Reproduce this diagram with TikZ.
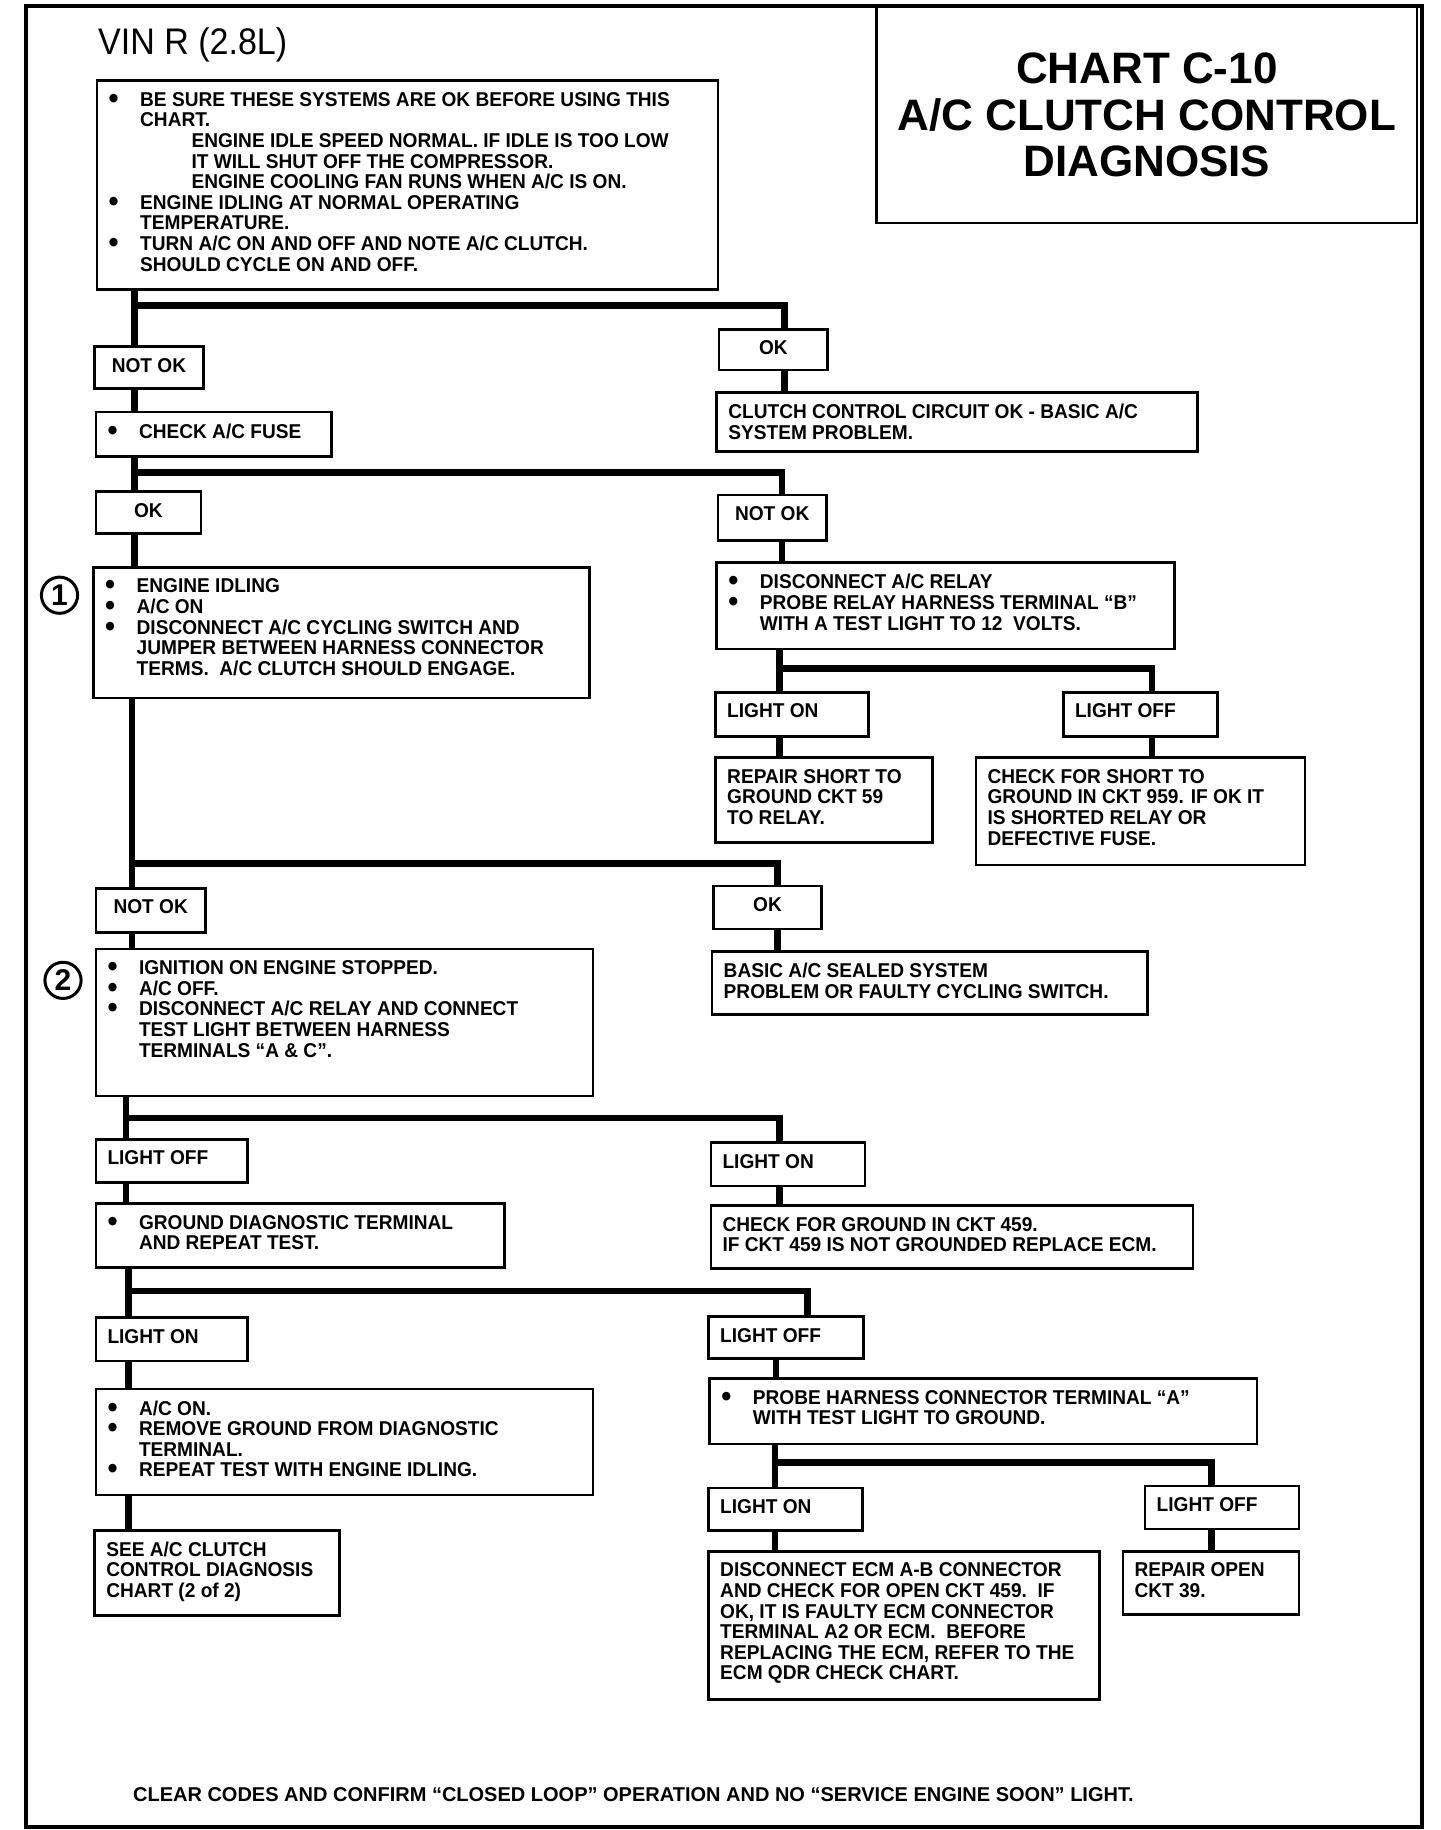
\documentclass[tikz,border=0pt]{standalone}
\usepackage{fontspec}
\setmainfont{Liberation Sans}[FakeStretch=0.955]
\newfontfamily\headfont{Liberation Sans}
\newfontfamily\vinfont{Liberation Sans}[FakeStretch=0.92]
\newlength\px
\setlength\px{0.5835pt}

% bullet and bullet item
\newcommand\bdot{\raisebox{-0.1em}{\scalebox{1.5}{\textbullet}}}
\newcommand\bitem{\par\hangindent=27\px\hangafter=1\noindent\makebox[27\px][l]{\smash{\bdot}}}

\tikzset{
  cbox/.style={draw, line width=1.3pt, anchor=north west, inner xsep=10\px, inner ysep=10\px,
    font=\fontsize{10}{10.3}\selectfont\bfseries},
  conn/.style={line width=3.3pt},
  numcirc/.style={circle, draw, line width=1.5pt, minimum size=31\px, inner sep=0pt,
    font=\headfont\fontsize{15}{15}\selectfont\bfseries},
}

% name, x, y, width, height, text
\newcommand\chartbox[6]{%
  \node[cbox] (#1) at (#2,#3)
    {\parbox[t][\dimexpr#5\px-20\px\relax][t]{\dimexpr#4\px-20\px\relax}{#6}};}

\begin{document}
\begin{tikzpicture}[x=\px, y=-\px]
\useasboundingbox (0,0) rectangle (1234,1568);
\draw[line width=2pt] (22,5) rectangle (1218,1565);

\node[anchor=base west, font=\vinfont\fontsize{18.5}{18.5}\selectfont] (vin) at (78,47) {VIN R (2.8L)};
\node[draw, line width=1.3pt, anchor=north west, minimum width=463\px, minimum height=185\px,
  align=center, font=\headfont\fontsize{22}{23.3}\selectfont\bfseries] (title) at (750,5)
  {CHART C-10\\A/C CLUTCH CONTROL\\DIAGNOSIS};

%% boxes
\chartbox{b1}{82}{68}{532}{179}{%
  \bitem BE SURE THESE SYSTEMS ARE OK BEFORE USING THIS\\CHART.
  \par\leftskip=71\px ENGINE IDLE SPEED NORMAL. IF IDLE IS TOO LOW\\IT WILL SHUT OFF THE COMPRESSOR.\\ENGINE COOLING FAN RUNS WHEN A/C IS ON.
  \par\leftskip=0pt
  \bitem ENGINE IDLING AT NORMAL OPERATING\\TEMPERATURE.
  \bitem TURN A/C ON AND OFF AND NOTE A/C CLUTCH.\\SHOULD CYCLE ON AND OFF.}
\chartbox{n1}{80}{296}{93}{36}{\centering NOT OK}
\chartbox{o1}{615}{281}{93}{35}{\centering OK}
\chartbox{clutch}{613}{335}{412}{51}{CLUTCH CONTROL CIRCUIT OK - BASIC A/C\\SYSTEM PROBLEM.}
\chartbox{fuse}{81}{352}{202}{38}{\bitem CHECK A/C FUSE}
\chartbox{ok2}{81}{420}{90}{36}{\centering OK}
\chartbox{no2}{614}{423}{93}{39}{\centering NOT OK}
\chartbox{idle}{79}{485}{425}{112}{%
  \bitem ENGINE IDLING
  \bitem A/C ON
  \bitem DISCONNECT A/C CYCLING SWITCH AND\\JUMPER BETWEEN HARNESS CONNECTOR\\TERMS.\ \ A/C CLUTCH SHOULD ENGAGE.}
\chartbox{relay}{613}{481}{392}{74}{%
  \bitem DISCONNECT A/C RELAY
  \bitem PROBE RELAY HARNESS TERMINAL “B”\\WITH A TEST LIGHT TO 12\ \ VOLTS.}
\chartbox{lon1}{612}{592}{131}{38}{LIGHT ON}
\chartbox{loff1}{910}{592}{132}{38}{LIGHT OFF}
\chartbox{repair}{612}{648}{186}{73}{REPAIR SHORT TO\\GROUND CKT 59\\TO RELAY.}
\chartbox{chkshort}{835}{648}{282}{92}{CHECK FOR SHORT TO\\GROUND IN CKT 959. IF OK IT\\IS SHORTED RELAY OR\\DEFECTIVE FUSE.}
\chartbox{no3}{81}{760}{94}{38}{\centering NOT OK}
\chartbox{ok3}{610}{758}{93}{37}{\centering OK}
\chartbox{basic}{609}{814}{373}{54}{BASIC A/C SEALED SYSTEM\\PROBLEM OR FAULTY CYCLING SWITCH.}
\chartbox{ign}{81}{812}{426}{126}{%
  \bitem IGNITION ON ENGINE STOPPED.
  \bitem A/C OFF.
  \bitem DISCONNECT A/C RELAY AND CONNECT\\TEST LIGHT BETWEEN HARNESS\\TERMINALS “A \& C”.}
\chartbox{loff2}{81}{975}{130}{37}{LIGHT OFF}
\chartbox{lon2}{608}{978}{132}{37}{LIGHT ON}
\chartbox{chkgnd}{608}{1032}{413}{54}{CHECK FOR GROUND IN CKT 459.\\IF CKT 459 IS NOT GROUNDED REPLACE ECM.}
\chartbox{gnd}{81}{1030}{350}{55}{\bitem GROUND DIAGNOSTIC TERMINAL\\AND REPEAT TEST.}
\chartbox{lon3}{81}{1128}{130}{37}{LIGHT ON}
\chartbox{loff3}{606}{1127}{133}{36}{LIGHT OFF}
\chartbox{acon}{81}{1189}{426}{91}{%
  \bitem A/C ON.
  \bitem REMOVE GROUND FROM DIAGNOSTIC\\TERMINAL.
  \bitem REPEAT TEST WITH ENGINE IDLING.}
\chartbox{see}{80}{1310}{210}{73}{SEE A/C CLUTCH\\CONTROL DIAGNOSIS\\CHART (2 of 2)}
\chartbox{probe}{607}{1180}{469}{56}{\bitem PROBE HARNESS CONNECTOR TERMINAL “A”\\WITH TEST LIGHT TO GROUND.}
\chartbox{lon4}{606}{1274}{132}{36}{LIGHT ON}
\chartbox{loff4}{980}{1272}{132}{37}{LIGHT OFF}
\chartbox{disc}{606}{1328}{335}{127}{DISCONNECT ECM A-B CONNECTOR\\AND CHECK FOR OPEN CKT 459.\ \ IF\\OK, IT IS FAULTY ECM CONNECTOR\\TERMINAL A2 OR ECM.\ \ BEFORE\\REPLACING THE ECM, REFER TO THE\\ECM QDR CHECK CHART.}
\chartbox{ropen}{961}{1328}{151}{54}{REPAIR OPEN\\CKT 39.}

\node[numcirc] (c1) at (51,510) {1};
\node[numcirc] (c2) at (54,840) {2};

\node[anchor=west, font=\fontsize{10}{10}\headfont\bfseries] (foot) at (108,1538)
  {CLEAR CODES AND CONFIRM “CLOSED LOOP” OPERATION AND NO “SERVICE ENGINE SOON” LIGHT.};

%% branch points
\coordinate (j1) at (115,262);  \coordinate (k1) at (672,262);
\coordinate (j2) at (115,405);  \coordinate (k2) at (670,405);
\coordinate (j3) at (668,573);  \coordinate (k3) at (987,573);
\coordinate (j4) at (113,740);  \coordinate (k4) at (666,740);
\coordinate (j5) at (108,958);  \coordinate (k5) at (668,958);
\coordinate (j6) at (110,1106); \coordinate (k6) at (692,1106);
\coordinate (m6) at (665,1106);
\coordinate (j7) at (664,1253); \coordinate (k7) at (1038,1253);

%% connectors
\draw[conn] (b1.south -| j1) -- (n1.north -| j1);
\draw[conn] (j1) -| (o1.north -| k1);
\draw[conn] (o1.south -| k1) -- (clutch.north -| k1);
\draw[conn] (n1.south -| j1) -- (fuse.north -| j1);

\draw[conn] (fuse.south -| j2) -- (ok2.north -| j2);
\draw[conn] (j2) -| (no2.north -| k2);
\draw[conn] (ok2.south -| j2) -- (idle.north -| j2);
\draw[conn] (no2.south -| k2) -- (relay.north -| k2);

\draw[conn] (relay.south -| j3) -- (lon1.north -| j3);
\draw[conn] (j3) -| (loff1.north -| k3);
\draw[conn] (lon1.south -| j3) -- (repair.north -| j3);
\draw[conn] (loff1.south -| k3) -- (chkshort.north -| k3);

\draw[conn] (idle.south -| j4) -- (no3.north -| j4);
\draw[conn] (j4) -| (ok3.north -| k4);
\draw[conn] (ok3.south -| k4) -- (basic.north -| k4);
\draw[conn] (no3.south -| j4) -- (ign.north -| j4);

\draw[conn] (ign.south -| j5) -- (loff2.north -| j5);
\draw[conn] (j5) -| (lon2.north -| k5);
\draw[conn] (lon2.south -| k5) -- (chkgnd.north -| k5);
\draw[conn] (loff2.south -| j5) -- (gnd.north -| j5);

\draw[conn] (gnd.south -| j6) -- (lon3.north -| j6);
\draw[conn] (j6) -| (loff3.north -| k6);
\draw[conn] (loff3.south -| m6) -- (probe.north -| m6);
\draw[conn] (lon3.south -| j6) -- (acon.north -| j6);
\draw[conn] (acon.south -| j6) -- (see.north -| j6);

\draw[conn] (probe.south -| j7) -- (lon4.north -| j7);
\draw[conn] (j7) -| (loff4.north -| k7);
\draw[conn] (lon4.south -| j7) -- (disc.north -| j7);
\draw[conn] (loff4.south -| k7) -- (ropen.north -| k7);
\end{tikzpicture}
\end{document}
